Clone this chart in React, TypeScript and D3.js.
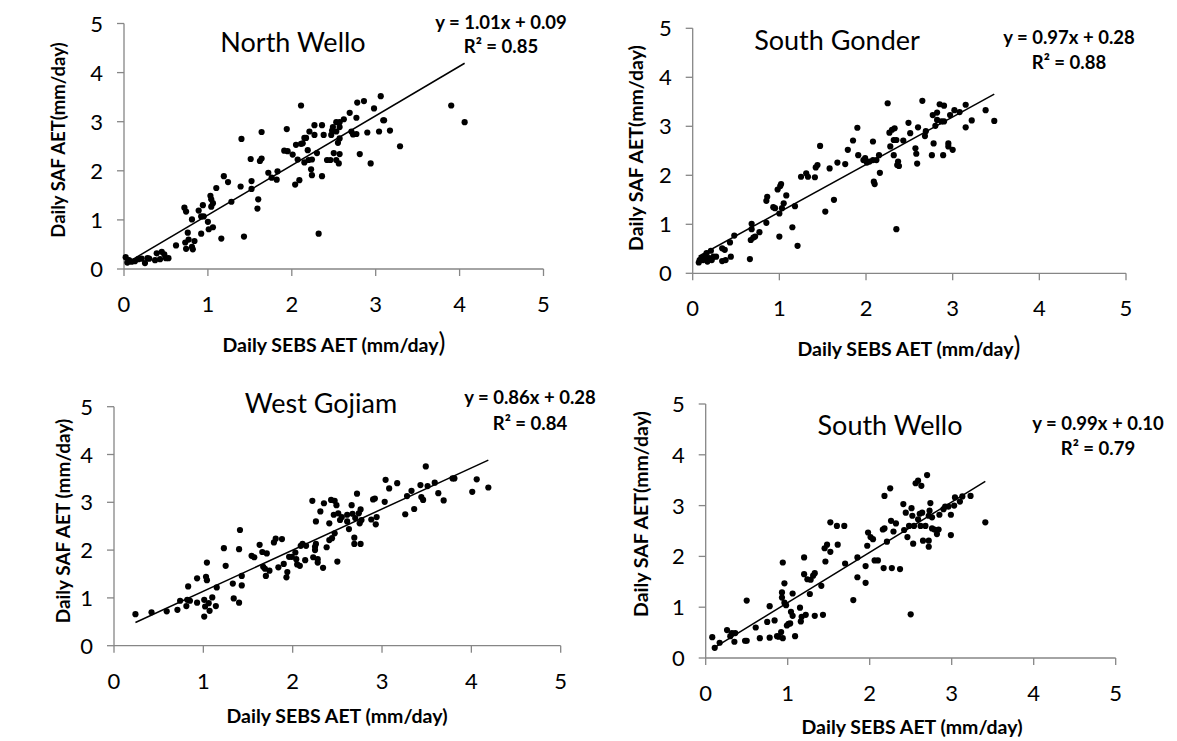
import React from "react";
import * as d3 from "d3";

// ---------- data ----------
const xTicks = [0, 1, 2, 3, 4, 5];
const yTicks = [0, 1, 2, 3, 4, 5];

const panelNames = ["North Wello", "South Gonder", "West Gojiam", "South Wello"];
const slopes = [1.01, 0.97, 0.86, 0.99];
const intercepts = [0.09, 0.28, 0.28, 0.1];
const r2Values = [0.85, 0.88, 0.84, 0.79];
const xAxisTitle = "Daily SEBS AET (mm/day";
const yAxisTitles = ["Daily SAF AET(mm/day)", "Daily SAF AET(mm/day)", "Daily SAF AET (mm/day)", "Daily SAF AET(mm/day)"];

const northWelloSEBS = [0.02, 0.04, 0.06, 0.09, 0.13, 0.17, 0.21, 0.25, 0.28, 0.3, 0.37, 0.39, 0.43, 0.45, 0.48, 0.5, 0.53, 0.62, 0.72, 0.74, 0.73, 0.74, 0.76, 0.77, 0.81, 0.81, 0.82, 0.84, 0.89, 0.92, 0.94, 0.92, 0.95, 1.0, 1.01, 1.03, 1.04, 1.04, 1.06, 1.06, 1.1, 1.16, 1.19, 1.24, 1.28, 1.39, 1.4, 1.43, 1.51, 1.52, 1.52, 1.59, 1.6, 1.62, 1.64, 1.64, 1.72, 1.76, 1.82, 1.83, 1.91, 1.94, 1.95, 2.01, 2.04, 2.05, 2.07, 2.09, 2.11, 2.11, 2.13, 2.15, 2.17, 2.15, 2.19, 2.2, 2.21, 2.23, 2.24, 2.24, 2.27, 2.27, 2.3, 2.32, 2.36, 2.36, 2.38, 2.42, 2.46, 2.47, 2.48, 2.49, 2.5, 2.53, 2.53, 2.53, 2.55, 2.56, 2.57, 2.57, 2.57, 2.57, 2.62, 2.69, 2.71, 2.73, 2.77, 2.77, 2.78, 2.81, 2.86, 2.9, 2.94, 2.98, 3.04, 3.06, 3.09, 3.1, 3.17, 3.29, 3.9, 4.06];
const northWelloSAF = [0.24, 0.13, 0.18, 0.15, 0.16, 0.2, 0.21, 0.12, 0.22, 0.21, 0.18, 0.32, 0.2, 0.35, 0.3, 0.22, 0.22, 0.48, 1.25, 1.17, 0.54, 0.41, 0.74, 0.6, 1.01, 0.45, 0.4, 0.57, 1.19, 1.07, 1.3, 0.72, 1.07, 0.96, 0.81, 1.49, 1.42, 1.27, 1.34, 0.85, 1.65, 0.62, 1.89, 1.77, 1.37, 1.68, 2.65, 0.66, 2.24, 1.79, 1.63, 1.23, 1.42, 2.2, 2.79, 2.25, 1.96, 1.86, 1.82, 1.99, 2.41, 2.85, 2.4, 2.33, 1.72, 2.53, 2.23, 1.81, 3.33, 2.55, 2.56, 2.67, 2.67, 2.17, 2.42, 2.22, 2.8, 2.03, 1.91, 2.23, 2.93, 2.73, 2.36, 0.72, 2.93, 1.89, 2.73, 2.22, 2.22, 2.73, 2.82, 2.89, 2.36, 2.99, 2.8, 2.22, 2.57, 2.15, 2.89, 2.99, 2.34, 2.66, 3.05, 3.18, 2.8, 2.74, 2.75, 3.08, 3.39, 2.34, 3.42, 2.78, 2.15, 3.27, 2.8, 3.52, 3.03, 3.03, 2.82, 2.5, 3.33, 2.99];

const southGonderSEBS = [0.07, 0.08, 0.1, 0.12, 0.14, 0.16, 0.17, 0.19, 0.21, 0.22, 0.24, 0.27, 0.34, 0.34, 0.37, 0.38, 0.43, 0.44, 0.48, 0.66, 0.67, 0.68, 0.68, 0.7, 0.72, 0.77, 0.85, 0.85, 0.86, 0.93, 0.95, 0.98, 1.0, 1.0, 1.01, 1.02, 1.03, 1.05, 1.08, 1.15, 1.18, 1.21, 1.25, 1.31, 1.33, 1.41, 1.42, 1.44, 1.47, 1.53, 1.58, 1.63, 1.67, 1.76, 1.79, 1.85, 1.9, 1.91, 1.97, 1.99, 2.01, 2.04, 2.08, 2.08, 2.09, 2.1, 2.12, 2.15, 2.16, 2.25, 2.27, 2.28, 2.3, 2.32, 2.32, 2.33, 2.35, 2.35, 2.36, 2.37, 2.38, 2.43, 2.49, 2.51, 2.57, 2.58, 2.59, 2.6, 2.65, 2.68, 2.69, 2.76, 2.77, 2.78, 2.8, 2.82, 2.82, 2.85, 2.87, 2.89, 2.9, 2.9, 2.95, 2.95, 2.97, 3.0, 3.02, 3.08, 3.15, 3.15, 3.22, 3.38, 3.48];
const southGonderSAF = [0.22, 0.27, 0.31, 0.27, 0.34, 0.41, 0.24, 0.31, 0.46, 0.27, 0.34, 0.34, 0.25, 0.51, 0.48, 0.27, 0.63, 0.34, 0.77, 0.29, 0.68, 0.9, 1.01, 0.73, 0.75, 0.84, 1.03, 1.48, 1.56, 1.35, 1.33, 1.71, 1.22, 0.75, 1.78, 1.82, 1.33, 1.43, 1.59, 0.94, 1.37, 0.56, 1.97, 2.04, 1.97, 1.96, 2.16, 2.21, 2.6, 1.26, 2.14, 1.5, 2.26, 2.23, 2.52, 2.71, 2.97, 2.41, 2.31, 2.35, 2.26, 2.28, 2.69, 2.31, 1.87, 1.82, 2.31, 2.41, 2.05, 3.47, 2.87, 2.59, 2.93, 2.72, 2.41, 2.96, 2.72, 0.9, 2.21, 2.28, 2.19, 2.71, 3.07, 2.86, 2.55, 2.44, 2.24, 2.98, 3.52, 2.8, 2.9, 2.41, 3.23, 2.65, 3.01, 3.28, 3.13, 3.45, 3.1, 2.41, 3.42, 3.1, 2.65, 2.59, 3.23, 2.52, 3.33, 3.29, 2.98, 3.44, 3.12, 3.33, 3.11];

const westGojiamSEBS = [0.24, 0.42, 0.59, 0.71, 0.74, 0.81, 0.82, 0.83, 0.85, 0.93, 0.93, 1.01, 1.01, 1.02, 1.03, 1.04, 1.04, 1.06, 1.07, 1.1, 1.14, 1.15, 1.23, 1.25, 1.33, 1.34, 1.4, 1.4, 1.41, 1.43, 1.43, 1.54, 1.57, 1.63, 1.66, 1.67, 1.69, 1.7, 1.71, 1.74, 1.79, 1.81, 1.84, 1.88, 1.9, 1.93, 1.94, 1.96, 1.99, 2.03, 2.04, 2.05, 2.08, 2.09, 2.11, 2.14, 2.15, 2.22, 2.23, 2.25, 2.25, 2.26, 2.26, 2.28, 2.28, 2.31, 2.34, 2.35, 2.38, 2.41, 2.41, 2.43, 2.44, 2.46, 2.47, 2.47, 2.49, 2.5, 2.51, 2.53, 2.55, 2.61, 2.61, 2.63, 2.66, 2.67, 2.69, 2.69, 2.7, 2.72, 2.74, 2.75, 2.76, 2.76, 2.77, 2.88, 2.9, 2.92, 2.93, 2.94, 3.03, 3.04, 3.08, 3.17, 3.26, 3.28, 3.33, 3.36, 3.43, 3.44, 3.46, 3.49, 3.51, 3.59, 3.63, 3.69, 3.79, 3.81, 4.01, 4.06, 4.19];
const westGojiamSAF = [0.66, 0.7, 0.72, 0.75, 0.94, 0.83, 0.96, 1.24, 0.94, 1.41, 0.9, 0.61, 0.96, 0.82, 1.44, 1.37, 1.74, 0.89, 0.73, 1.01, 0.83, 1.22, 2.04, 1.67, 1.3, 0.99, 0.9, 2.02, 2.42, 1.26, 1.46, 1.88, 1.85, 2.11, 1.96, 1.65, 1.61, 1.46, 1.93, 1.57, 2.16, 2.24, 1.64, 2.23, 1.71, 1.43, 1.54, 1.86, 1.86, 1.95, 1.81, 1.7, 1.67, 2.09, 2.13, 1.79, 2.09, 3.03, 1.85, 2.0, 2.07, 2.13, 2.6, 1.74, 1.81, 2.81, 1.63, 2.98, 2.06, 2.56, 2.21, 3.05, 2.25, 2.74, 3.03, 2.35, 2.94, 1.76, 2.77, 2.63, 2.69, 2.74, 2.6, 2.44, 2.94, 2.76, 2.13, 2.26, 2.67, 3.18, 2.77, 2.56, 2.13, 2.85, 2.63, 2.64, 3.06, 3.08, 2.54, 2.69, 3.01, 3.47, 3.29, 3.4, 2.75, 3.13, 3.24, 2.86, 3.36, 3.11, 3.05, 3.75, 3.34, 3.41, 3.19, 3.04, 3.5, 3.5, 3.22, 3.48, 3.31];

const southWelloSEBS = [0.08, 0.11, 0.17, 0.26, 0.3, 0.32, 0.35, 0.36, 0.48, 0.5, 0.5, 0.61, 0.66, 0.75, 0.78, 0.78, 0.84, 0.87, 0.89, 0.92, 0.94, 0.94, 0.93, 0.93, 0.96, 0.96, 0.98, 0.99, 1.01, 1.03, 1.04, 1.06, 1.06, 1.09, 1.15, 1.16, 1.17, 1.2, 1.2, 1.22, 1.24, 1.27, 1.28, 1.31, 1.33, 1.33, 1.41, 1.43, 1.45, 1.46, 1.48, 1.52, 1.52, 1.6, 1.61, 1.69, 1.7, 1.8, 1.85, 1.85, 1.95, 1.95, 1.97, 1.98, 2.01, 2.04, 2.06, 2.1, 2.16, 2.17, 2.18, 2.18, 2.21, 2.25, 2.26, 2.27, 2.29, 2.32, 2.37, 2.41, 2.42, 2.44, 2.46, 2.48, 2.5, 2.51, 2.52, 2.53, 2.54, 2.56, 2.59, 2.59, 2.61, 2.62, 2.63, 2.64, 2.65, 2.68, 2.7, 2.72, 2.73, 2.72, 2.72, 2.74, 2.76, 2.76, 2.79, 2.82, 2.84, 2.85, 2.9, 2.92, 2.96, 2.99, 2.99, 3.03, 3.04, 3.1, 3.13, 3.23, 3.41];
const southWelloSAF = [0.41, 0.2, 0.3, 0.55, 0.43, 0.49, 0.32, 0.49, 0.34, 0.34, 1.13, 0.6, 0.39, 0.71, 0.4, 1.02, 0.74, 0.43, 0.42, 0.51, 1.88, 0.39, 1.19, 1.29, 1.47, 1.09, 1.04, 0.64, 0.67, 0.68, 0.91, 0.83, 1.27, 0.43, 0.99, 0.72, 0.81, 1.98, 1.65, 0.85, 1.55, 1.26, 1.54, 1.62, 1.67, 0.83, 1.42, 0.85, 2.16, 1.9, 2.23, 2.67, 2.09, 2.6, 2.23, 2.6, 1.86, 1.14, 1.59, 1.98, 1.48, 1.81, 2.21, 2.47, 2.38, 2.34, 1.92, 1.92, 2.53, 1.77, 3.19, 2.55, 2.29, 3.34, 2.7, 1.77, 2.49, 2.65, 1.75, 3.03, 2.52, 2.86, 2.38, 2.6, 0.86, 2.95, 2.8, 2.25, 2.6, 3.44, 2.73, 3.49, 2.84, 2.6, 3.39, 2.86, 2.31, 2.6, 3.6, 2.8, 2.9, 2.31, 2.19, 3.05, 2.77, 2.55, 2.53, 2.44, 2.53, 2.82, 2.93, 2.98, 2.98, 2.42, 2.82, 3.0, 3.16, 3.08, 3.18, 3.19, 2.67];

const panelSEBS = [northWelloSEBS, southGonderSEBS, westGojiamSEBS, southWelloSEBS];
const panelSAF = [northWelloSAF, southGonderSAF, westGojiamSAF, southWelloSAF];

// ---------- layout ----------
const FONT = "Lato, 'Open Sans', 'Liberation Sans', sans-serif";
const AXIS_COLOR = "#868686";

type Layout = {
  x0: number; x5: number; y0: number; y5: number;
  titleX: number; titleY: number;
  eqX: number; eqY1: number; eqY2: number;
  xlX: number; xlY: number;
  ylX: number; ylY: number;
  ylSize: number;
  bigParen: boolean;
};

const layouts: Layout[] = [
  { x0: 124, x5: 543.5, y0: 269, y5: 23.5, titleX: 293, titleY: 52, eqX: 501, eqY1: 29, eqY2: 53, xlX: 334, xlY: 352, ylX: 65, ylY: 140, ylSize: 18.5, bigParen: true },
  { x0: 692.7, x5: 1126, y0: 273.3, y5: 28.3, titleX: 837, titleY: 50, eqX: 1069, eqY1: 44, eqY2: 69, xlX: 909, xlY: 356, ylX: 643, ylY: 148, ylSize: 19.5, bigParen: true },
  { x0: 114, x5: 560.7, y0: 645.7, y5: 406.7, titleX: 321, titleY: 413, eqX: 530, eqY1: 404, eqY2: 430, xlX: 337, xlY: 723, ylX: 70, ylY: 521, ylSize: 19, bigParen: false },
  { x0: 705.7, x5: 1115.7, y0: 658, y5: 404, titleX: 890, titleY: 435, eqX: 1098, eqY1: 430, eqY2: 455, xlX: 912, xlY: 734, ylX: 648, ylY: 514, ylSize: 19.5, bigParen: false },
];

function Panel({ i }: { i: number }) {
  const L = layouts[i];
  const xs = panelSEBS[i];
  const ys = panelSAF[i];
  const x = d3.scaleLinear().domain([0, 5]).range([L.x0, L.x5]);
  const y = d3.scaleLinear().domain([0, 5]).range([L.y0, L.y5]);
  const [minX, maxX] = d3.extent(xs) as [number, number];
  const lineGen = d3
    .line<number>()
    .x((v) => x(v))
    .y((v) => y(slopes[i] * v + intercepts[i]));
  const eq = `y = ${slopes[i].toFixed(2)}x + ${intercepts[i].toFixed(2)}`;
  const r2 = `R² = ${r2Values[i].toFixed(2)}`;
  return (
    <g>
      {/* axes */}
      <line x1={L.x0} x2={L.x5} y1={L.y0} y2={L.y0} stroke={AXIS_COLOR} strokeWidth={1.3} />
      <line x1={L.x0} x2={L.x0} y1={L.y0} y2={L.y5} stroke={AXIS_COLOR} strokeWidth={1.3} />
      {xTicks.map((t) => (
        <g key={"xt" + t}>
          <line x1={x(t)} x2={x(t)} y1={L.y0} y2={L.y0 + 7} stroke={AXIS_COLOR} strokeWidth={1.3} />
          <text x={x(t)} y={L.y0 + 43} textAnchor="middle" fontSize={22} fontFamily={FONT} fill="#000">
            {t}
          </text>
        </g>
      ))}
      {yTicks.map((t) => (
        <g key={"yt" + t}>
          <line x1={L.x0 - 7} x2={L.x0} y1={y(t)} y2={y(t)} stroke={AXIS_COLOR} strokeWidth={1.3} />
          <text x={L.x0 - 21} y={y(t) + 8} textAnchor="end" fontSize={22} fontFamily={FONT} fill="#000">
            {t}
          </text>
        </g>
      ))}
      {/* points */}
      {xs.map((v, k) => (
        <circle key={k} cx={x(v)} cy={y(ys[k])} r={3.1} fill="#000" />
      ))}
      {/* trendline */}
      <path d={lineGen([minX, maxX]) || ""} stroke="#000" strokeWidth={1.5} fill="none" />
      {/* title */}
      <text x={L.titleX} y={L.titleY} textAnchor="middle" fontSize={27} fontFamily={FONT} fill="#000">
        {panelNames[i]}
      </text>
      {/* equation */}
      <text x={L.eqX} y={L.eqY1} textAnchor="middle" fontSize={18.5} fontWeight="bold" fontFamily={FONT} fill="#000">
        {eq}
      </text>
      <text x={L.eqX} y={L.eqY2} textAnchor="middle" fontSize={18.5} fontWeight="bold" fontFamily={FONT} fill="#000">
        {r2}
      </text>
      {/* axis titles */}
      <text x={L.xlX} y={L.xlY} textAnchor="middle" fontSize={19.5} fontWeight="bold" fontFamily={FONT} fill="#000">
        {xAxisTitle}
        {L.bigParen ? <tspan fontSize={26} fontWeight="normal">)</tspan> : ")"}
      </text>
      <text
        transform={`translate(${L.ylX},${L.ylY}) rotate(-90)`}
        textAnchor="middle"
        fontSize={L.ylSize}
        fontWeight="bold"
        fontFamily={FONT}
        fill="#000"
      >
        {yAxisTitles[i]}
      </text>
    </g>
  );
}

export default function App() {
  return (
    <svg
      width={1177}
      height={741}
      viewBox="0 0 1177 741"
      style={{ position: "absolute", left: 0, top: 0, background: "#fff" }}
    >
      <rect x={0} y={0} width={1177} height={741} fill="#fff" />
      {panelNames.map((_, i) => (
        <Panel key={i} i={i} />
      ))}
    </svg>
  );
}
